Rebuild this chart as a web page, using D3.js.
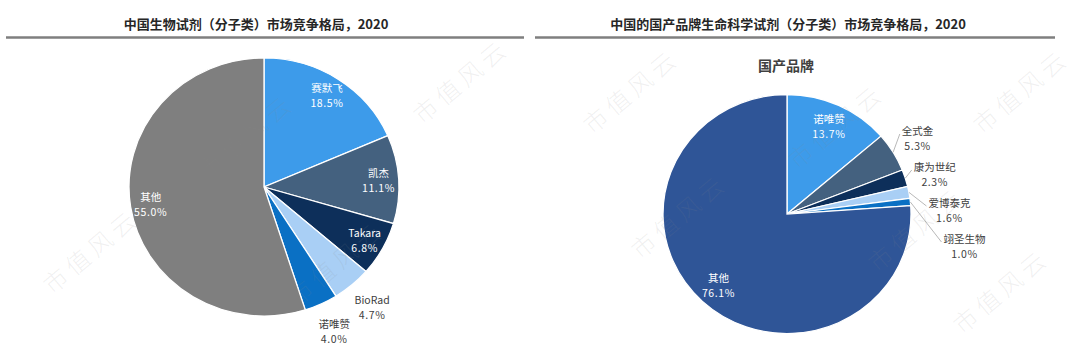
<!DOCTYPE html>
<html><head><meta charset="utf-8">
<script src="https://cdn.jsdelivr.net/npm/d3@7"></script>
<style>html,body{margin:0;padding:0;background:#fff;} svg{display:block;font-family:"Noto Sans CJK SC","Noto Sans",sans-serif;}</style>
</head><body><svg id="c" width="1080" height="357"></svg>
<script>
const leftTitle = "中国生物试剂（分子类）市场竞争格局，2020";
const leftNames = ["赛默飞","凯杰","Takara","BioRad","诺唯赞","其他"];
const leftValues = [18.5,11.1,6.8,4.7,4.0,55.0];
const leftColors = ["#3d9bea","#44617f","#0d2f5a","#a9cff5","#0a70c4","#7f7f7f"];

const rightTitle = "中国的国产品牌生命科学试剂（分子类）市场竞争格局，2020";
const rightSubtitle = "国产品牌";
const rightNames = ["诺唯赞","全式金","康为世纪","爱博泰克","翊圣生物","其他"];
const rightValues = [13.7,5.3,2.3,1.6,1.0,76.1];
const rightColors = ["#3d9bea","#44617f","#0d2f5a","#a9cff5","#0a70c4","#2f5597"];

const watermark = "市值风云";

const svg = d3.select("#c");
svg.append("rect").attr("width",1080).attr("height",357).attr("fill","#fff");

svg.append("text").attr("x",256).attr("y",23).attr("text-anchor","middle").attr("dominant-baseline","central")
  .attr("font-size",13).attr("font-weight","bold").attr("fill","#262626").text(leftTitle);
svg.append("text").attr("x",788).attr("y",23).attr("text-anchor","middle").attr("dominant-baseline","central")
  .attr("font-size",13).attr("font-weight","bold").attr("fill","#262626").text(rightTitle);
svg.append("line").attr("x1",6).attr("x2",524).attr("y1",37.5).attr("y2",37.5).attr("stroke","#7f7f7f").attr("stroke-width",2.5);
svg.append("line").attr("x1",535).attr("x2",1055).attr("y1",37.5).attr("y2",37.5).attr("stroke","#7f7f7f").attr("stroke-width",2.5);
svg.append("text").attr("x",786).attr("y",65).attr("text-anchor","middle").attr("dominant-baseline","central")
  .attr("font-size",14).attr("font-weight","bold").attr("fill","#404040").text(rightSubtitle);

function drawPie(cfg){
  const g = svg.append("g").attr("transform",`translate(${cfg.cx},${cfg.cy})`);
  const sy = cfg.ry/cfg.rx;
  const total = d3.sum(cfg.values);
  const data = cfg.names.map((n,i)=>({n, v:cfg.values[i], c:cfg.colors[i]}));
  const arcs = d3.pie().sort(null).value(d=>d.v)(data);
  const arc = d3.arc().innerRadius(0).outerRadius(cfg.rx);
  g.append("g").attr("transform",`scale(1,${sy})`).selectAll("path").data(arcs).join("path")
    .attr("d",arc).attr("fill",d=>d.data.c).attr("stroke","#fff").attr("stroke-width",1.3);
  const pt = (a,f)=>[Math.sin(a)*cfg.rx*f, -Math.cos(a)*cfg.ry*f];
  const labels = arcs.map(d=>{
    const mid=(d.startAngle+d.endAngle)/2;
    const inside = d.data.v/total >= 0.06;
    const [x,y] = pt(mid, inside?cfg.inR:cfg.outR);
    return {d, mid, inside, x, y};
  });
  const outs = labels.filter(l=>!l.inside && l.x>0).sort((a,b)=>a.y-b.y);
  for(let i=1;i<outs.length;i++){
    const p=outs[i-1], q=outs[i];
    if(Math.abs(q.x-p.x)<30 && q.y-p.y<cfg.gap){
      const push = p.y+cfg.gap-q.y;
      q.y = p.y+cfg.gap;
      q.x += push*0.55;
    }
  }
  labels.forEach(l=>{
    const col = l.inside?"#ffffff":"#404040";
    const t1 = g.append("text").attr("x",l.x).attr("y",l.y-7.5).attr("text-anchor","middle").attr("dominant-baseline","central")
      .attr("font-size",10.5).attr("fill",col).text(l.d.data.n);
    g.append("text").attr("x",l.x).attr("y",l.y+7.5).attr("text-anchor","middle").attr("dominant-baseline","central")
      .attr("font-size",10.5).attr("fill",col).attr("letter-spacing",0.6).text(d3.format(".1f")(l.d.data.v)+"%");
    if(!l.inside && cfg.leaders){
      const w = t1.node().getComputedTextLength();
      const [ex,ey] = pt(l.mid,1.0);
      g.append("line").attr("x1",ex).attr("y1",ey).attr("x2",l.x-w/2-2).attr("y2",l.y-4)
        .attr("stroke","#a6a6a6").attr("stroke-width",0.8);
    }
  });
}

drawPie({cx:264,cy:187,rx:135,ry:129,names:leftNames,values:leftValues,colors:leftColors,inR:0.85,outR:1.23,gap:36,leaders:false});
drawPie({cx:787,cy:214,rx:124,ry:119.5,names:rightNames,values:rightValues,colors:rightColors,inR:0.81,outR:1.23,gap:36,leaders:true});

// watermark (faint, kept inside the frame)
const wmPos = [[245,135],[335,262],[460,80],[90,250],[630,90],[835,125],[915,228],[678,215],[1000,290],[1020,90]];
const wm = svg.append("g").attr("pointer-events","none");
wmPos.forEach(p=>{
  wm.append("text").attr("transform",`translate(${p[0]},${p[1]}) rotate(-40)`).attr("text-anchor","middle")
    .attr("dominant-baseline","central").attr("font-size",24).attr("font-weight",300).attr("letter-spacing",5)
    .attr("fill","#888").attr("fill-opacity",0.13).text(watermark);
});
</script></body></html>
